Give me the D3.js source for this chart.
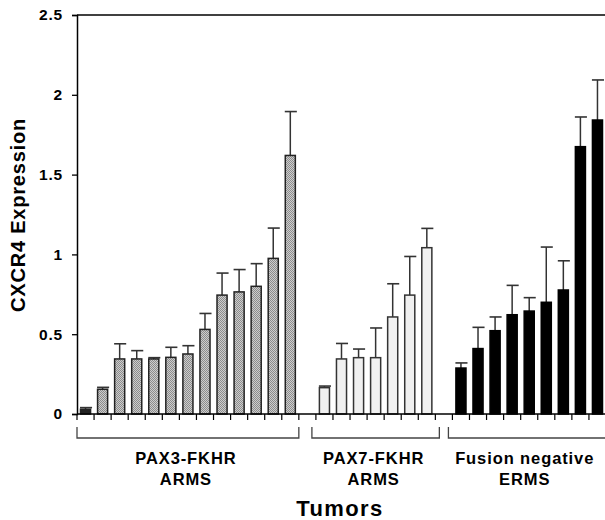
<!doctype html>
<html>
<head>
  <meta charset="utf-8">
  <script src="https://d3js.org/d3.v7.min.js"></script>
  <style>
    body { margin: 0; background: #fff; }
    text { font-family: Arial, "Liberation Sans", Helvetica, sans-serif; font-weight: bold; fill: #000; }
  </style>
</head>
<body>
<script>
  // groups of tumors, in order on the x axis
  var groups = ["PAX3-FKHR|ARMS", "PAX7-FKHR|ARMS", "Fusion negative|ERMS"];
  var pax3Values = [0.03, 0.155, 0.345, 0.345, 0.345, 0.355, 0.376, 0.53, 0.745, 0.765, 0.80, 0.975, 1.62];
  var pax3Errors = [0.01, 0.012, 0.095, 0.052, 0.008, 0.063, 0.052, 0.10, 0.138, 0.14, 0.142, 0.19, 0.275];
  var pax7Values = [0.165, 0.345, 0.353, 0.353, 0.608, 0.745, 1.042];
  var pax7Errors = [0.01, 0.097, 0.054, 0.186, 0.208, 0.242, 0.121];
  var ermsValues = [0.288, 0.41, 0.522, 0.622, 0.645, 0.70, 0.777, 1.675, 1.842];
  var ermsErrors = [0.032, 0.133, 0.086, 0.184, 0.084, 0.346, 0.183, 0.186, 0.251];
  var yTicks = [0, 0.5, 1, 1.5, 2, 2.5];
  var yTickLabels = ["0", "0.5", "1", "1.5", "2", "2.5"];

  var w = 605, h = 520;
  var mLeft = 77, mTop = 15, mBottom = 414;

  // one slot per tumor, with an empty slot between groups
  var slots = [];
  [[pax3Values, pax3Errors], [pax7Values, pax7Errors], [ermsValues, ermsErrors]].forEach(function(g, gi){
    if (gi > 0) slots.push({ gap: true, group: gi });
    g[0].forEach(function(v, i){
      slots.push({ value: v, err: g[1][i], group: gi });
    });
  });
  slots.forEach(function(d, i){ d.id = i; });

  var pad = 0.41;
  var x = d3.scaleBand()
    .domain(slots.map(function(d){ return d.id; }))
    .range([mLeft, w + 1])
    .paddingInner(pad)
    .paddingOuter(pad / 2);
  var step = x.step();
  var y = d3.scaleLinear().domain([0, 2.5]).range([mBottom, mTop]);

  var svg = d3.select("body").append("svg")
    .attr("width", w)
    .attr("height", h);

  // checkered fill of the PAX3 bars
  var defs = svg.append("defs");
  var pat = defs.append("pattern")
    .attr("id", "check")
    .attr("width", 2).attr("height", 2)
    .attr("patternUnits", "userSpaceOnUse");
  pat.append("rect").attr("width", 2).attr("height", 2).attr("fill", "#cdcdcd");
  pat.append("rect").attr("width", 1).attr("height", 1).attr("fill", "#8c8c8c");
  pat.append("rect").attr("x", 1).attr("y", 1).attr("width", 1).attr("height", 1).attr("fill", "#8c8c8c");

  var fills = ["url(#check)", "#f0f0f0", "#000"];
  var strokes = ["#222", "#333", "#000"];

  var bars = slots.filter(function(d){ return !d.gap; });

  // error bars (drawn first, bars sit on top)
  var eb = svg.append("g").attr("class", "errors");
  eb.selectAll("line.v")
    .data(bars)
    .enter().append("line")
      .attr("class", "v")
      .attr("x1", function(d){ return x(d.id) + x.bandwidth() / 2; })
      .attr("x2", function(d){ return x(d.id) + x.bandwidth() / 2; })
      .attr("y1", function(d){ return y(d.value); })
      .attr("y2", function(d){ return y(d.value + d.err); })
      .attr("stroke", "#333")
      .attr("stroke-width", 1.5);
  eb.selectAll("line.cap")
    .data(bars)
    .enter().append("line")
      .attr("class", "cap")
      .attr("x1", function(d){ return x(d.id) - 0.5; })
      .attr("x2", function(d){ return x(d.id) + x.bandwidth() + 1.5; })
      .attr("y1", function(d){ return y(d.value + d.err); })
      .attr("y2", function(d){ return y(d.value + d.err); })
      .attr("stroke", "#333")
      .attr("stroke-width", 1.6);

  svg.append("g").selectAll("rect")
    .data(bars)
    .enter().append("rect")
      .attr("x", function(d){ return x(d.id); })
      .attr("y", function(d){ return y(d.value); })
      .attr("width", x.bandwidth())
      .attr("height", function(d){ return y(0) - y(d.value); })
      .attr("fill", function(d){ return d.value < 0.05 ? "#222" : fills[d.group]; })
      .attr("stroke", function(d){ return strokes[d.group]; })
      .attr("stroke-width", 1.5);

  // y axis
  var yAxis = d3.axisLeft(y)
    .tickValues(yTicks)
    .tickSize(5)
    .tickPadding(9)
    .tickFormat(function(d, i){ return yTickLabels[i]; });
  var gy = svg.append("g")
    .attr("transform", "translate(" + mLeft + ",0)")
    .call(yAxis);
  gy.select(".domain").attr("stroke", "#000").attr("stroke-width", 1.5);
  gy.selectAll(".tick line").attr("stroke", "#000").attr("stroke-width", 1.3);
  gy.selectAll(".tick text")
    .style("font-size", "15.5px")
    .style("font-weight", "bold")
    .style("letter-spacing", "0.8px")
    .attr("fill", "#000");

  // top frame line
  svg.append("line")
    .attr("x1", mLeft).attr("x2", w)
    .attr("y1", y(2.5)).attr("y2", y(2.5))
    .attr("stroke", "#000").attr("stroke-width", 1.5);

  // x axis line and ticks between slots
  svg.append("line")
    .attr("x1", mLeft).attr("x2", w)
    .attr("y1", y(0)).attr("y2", y(0))
    .attr("stroke", "#000").attr("stroke-width", 1.5);
  var bounds = slots.map(function(d){ return x(d.id) - step * pad / 2; });
  bounds.push(x(slots[slots.length - 1].id) + x.bandwidth() + step * pad / 2);
  svg.append("g").selectAll("line")
    .data(bounds.filter(function(b){ return b < w; }))
    .enter().append("line")
      .attr("x1", function(d){ return d; })
      .attr("x2", function(d){ return d; })
      .attr("y1", y(0))
      .attr("y2", y(0) + 6)
      .attr("stroke", "#000")
      .attr("stroke-width", 1.2);

  // group brackets and labels
  groups.forEach(function(name, gi){
    var gs = bars.filter(function(d){ return d.group === gi; });
    var x0 = x(gs[0].id) - step * pad / 2;
    var x1 = x(gs[gs.length - 1].id) + x.bandwidth() + step * pad / 2;
    if (gi === 0) { x0 = mLeft; } else { x0 -= 4; }
    if (gi === 1) x1 += 4;
    if (gi === 2) x1 = w + 2;
    var by = 438;
    svg.append("path")
      .attr("d", "M" + x0 + "," + (by - 11) + "V" + by + "H" + x1 + "V" + (by - 11))
      .attr("fill", "none")
      .attr("stroke", "#444")
      .attr("stroke-width", 1.3);
    var lines = name.split("|");
    var cx = (x0 + Math.min(x1, w)) / 2 - 2;
    lines.forEach(function(t, li){
      svg.append("text")
        .attr("x", cx)
        .attr("y", 464 + li * 21)
        .attr("text-anchor", "middle")
        .style("font-size", "16.5px")
        .style("letter-spacing", "0.9px")
        .text(t);
    });
  });

  // axis titles
  svg.append("text")
    .attr("x", 340)
    .attr("y", 516)
    .attr("text-anchor", "middle")
    .style("font-size", "22px")
    .style("letter-spacing", "1.4px")
    .text("Tumors");

  svg.append("text")
    .attr("transform", "translate(25,215) rotate(-90)")
    .attr("text-anchor", "middle")
    .style("font-size", "20px")
    .style("letter-spacing", "0.8px")
    .text("CXCR4 Expression");
</script>
</body>
</html>
